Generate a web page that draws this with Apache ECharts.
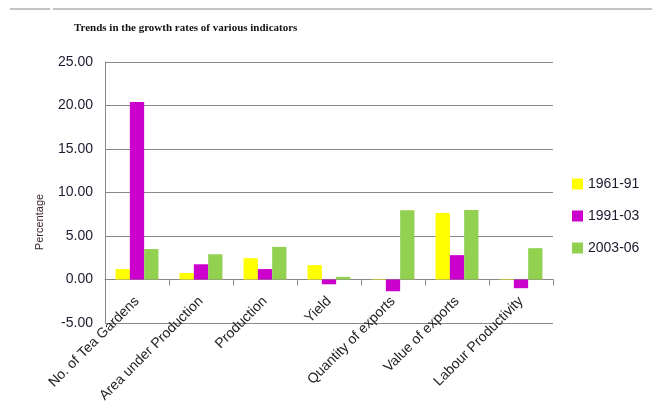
<!DOCTYPE html>
<html>
<head>
<meta charset="utf-8">
<script src="https://cdn.jsdelivr.net/npm/echarts@6/dist/echarts.min.js"></script>
<style>
html,body{margin:0;padding:0;background:#fff;}
#chart{width:652px;height:418px;}
</style>
</head>
<body>
<div id="chart"></div>
<script>
var categories = ['No. of Tea Gardens','Area under Production','Production','Yield','Quantity of exports','Value of exports','Labour Productivity'];
var seriesNames = ['1961-91','1991-03','2003-06'];
var s1961 = [1.2, 0.75, 2.45, 1.65, 0.05, 7.65, -0.05];
var s1991 = [20.4, 1.75, 1.2, -0.55, -1.35, 2.8, -1.0];
var s2003 = [3.5, 2.9, 3.75, 0.3, 7.95, 8.0, 3.6];
var colors = ['#FFFF00','#CC00CC','#92D050'];

var myChart = echarts.init(document.getElementById('chart'));
var option = {
    animation: false,
    title: {
        text: 'Trends in the growth rates of various indicators',
        left: 69,
        top: 18,
        textStyle: {fontFamily: 'Liberation Serif', fontWeight: 'bold', fontSize: 11, color: '#111'}
    },
    legend: {
        data: seriesNames,
        orient: 'vertical',
        left: 567,
        top: 172,
        itemWidth: 11,
        itemHeight: 11,
        itemGap: 18,
        icon: 'rect',
        textStyle: {fontFamily: 'Liberation Sans', fontSize: 14, color: '#1a1a2e'}
    },
    grid: {left: 105, right: 99, top: 62, bottom: 95},
    xAxis: {
        type: 'category',
        data: categories,
        axisLine: {lineStyle: {color: '#888'}},
        axisTick: {show: true, length: 6, lineStyle: {color: '#888'}},
        axisLabel: {rotate: 45, interval: 0, fontFamily: 'Liberation Sans', fontSize: 14, color: '#222', margin: -24}
    },
    yAxis: {
        type: 'value',
        min: -5,
        max: 25,
        interval: 5,
        axisLine: {show: true, lineStyle: {color: '#888'}},
        axisTick: {show: false},
        axisLabel: {formatter: function(v){return v.toFixed(2);}, fontFamily: 'Liberation Sans', fontSize: 14, color: '#1a1a2e', margin: 12},
        splitLine: {lineStyle: {color: '#888'}}
    },
    series: [
        {name: seriesNames[0], type: 'bar', data: s1961, itemStyle: {color: colors[0]}, barGap: '0%', barCategoryGap: '33%'},
        {name: seriesNames[1], type: 'bar', data: s1991, itemStyle: {color: colors[1]}, barGap: '0%', barCategoryGap: '33%'},
        {name: seriesNames[2], type: 'bar', data: s2003, itemStyle: {color: colors[2]}, barGap: '0%', barCategoryGap: '33%'}
    ],
    graphic: [
        {type: 'line', shape: {x1: 10, y1: 9, x2: 50, y2: 9}, style: {stroke: '#888', lineWidth: 1}},
        {type: 'line', shape: {x1: 53, y1: 9, x2: 652, y2: 9}, style: {stroke: '#888', lineWidth: 1}},
        {type: 'text', x: 40, y: 222, rotation: Math.PI / 2,
         style: {text: 'Percentage', fontFamily: 'Liberation Sans', fontSize: 11, fill: '#3a2a2a', align: 'center', verticalAlign: 'middle'}}
    ]
};
myChart.setOption(option);
</script>
</body>
</html>
